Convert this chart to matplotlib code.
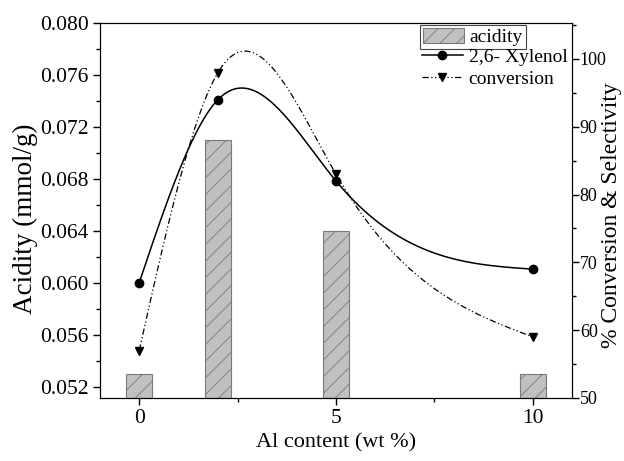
import numpy as np
import matplotlib.pyplot as plt
from matplotlib.ticker import MultipleLocator

plt.rcParams['font.family'] = ['Liberation Serif', 'DejaVu Serif']
plt.rcParams['hatch.linewidth'] = 0.6
plt.rcParams['hatch.color'] = '#333333'

al_content = [0, 2, 5, 10]
acidity = [0.053, 0.071, 0.064, 0.053]
xylenol = [67, 94, 82, 69]
conversion = [57, 98, 83, 59]


def natural_spline(xs, ys, xfine):
    # natural cubic spline, like the smoothed line in Origin
    xs = np.asarray(xs, float)
    ys = np.asarray(ys, float)
    n = len(xs)
    h = np.diff(xs)
    A = np.zeros((n, n))
    b = np.zeros(n)
    A[0, 0] = A[-1, -1] = 1
    for i in range(1, n - 1):
        A[i, i - 1] = h[i - 1]
        A[i, i] = 2 * (h[i - 1] + h[i])
        A[i, i + 1] = h[i]
        b[i] = 6 * ((ys[i + 1] - ys[i]) / h[i] - (ys[i] - ys[i - 1]) / h[i - 1])
    M = np.linalg.solve(A, b)
    out = np.empty_like(xfine)
    for k, t in enumerate(xfine):
        i = min(np.searchsorted(xs, t, side='right') - 1, n - 2)
        i = max(i, 0)
        a = xs[i + 1] - t
        c = t - xs[i]
        out[k] = (M[i] * a**3 + M[i + 1] * c**3) / (6 * h[i]) \
            + (ys[i] / h[i] - M[i] * h[i] / 6) * a \
            + (ys[i + 1] / h[i] - M[i + 1] * h[i] / 6) * c
    return out


fig = plt.figure(figsize=(6.24, 4.61), dpi=100)
ax = fig.add_axes([0.160, 0.1367, 0.757, 0.8133])
ax2 = ax.twinx()

bars = ax.bar(al_content, acidity, width=0.65, color='#c0c0c0', edgecolor='#7a7a7a',
              hatch='//', linewidth=0.8, label='acidity', zorder=2)

xf = np.linspace(0, 10, 300)
ax2.plot(xf, natural_spline(al_content, xylenol, xf), color='black', lw=1.1)
ax2.plot(xf, natural_spline(al_content, conversion, xf), color='black', lw=0.9,
         dashes=[5, 2, 1, 2, 1, 2])
ax2.plot(al_content, xylenol, 'o', color='black', ms=6)
ax2.plot(al_content, conversion, 'v', color='black', ms=6)

# legend handles with line + marker
h1, = ax2.plot([], [], '-o', color='black', ms=6, lw=1.1)
h2, = ax2.plot([], [], 'v', color='black', ms=6, lw=0.9, ls=(0, (5, 2, 1, 2, 1, 2)))

ax.set_xlim(-1, 11)
ax.set_ylim(0.05115, 0.080)
ax2.set_ylim(50, 105.3)

ax.xaxis.set_major_locator(MultipleLocator(5))
ax.xaxis.set_minor_locator(MultipleLocator(2.5))
ax.yaxis.set_major_locator(MultipleLocator(0.004))
ax.yaxis.set_minor_locator(MultipleLocator(0.002))
ax2.yaxis.set_major_locator(MultipleLocator(10))
ax2.yaxis.set_minor_locator(MultipleLocator(5))
ax.yaxis.set_major_formatter(plt.FormatStrFormatter('%.3f'))

for a in (ax, ax2):
    a.tick_params(which='major', direction='out', length=5, width=1, pad=3)
    a.tick_params(which='minor', direction='out', length=3, width=1)
ax.tick_params(axis='y', labelsize=15.5)
ax.tick_params(axis='x', labelsize=15.5)
ax2.tick_params(axis='y', labelsize=13, pad=0.5)

ax.set_xlabel('Al content (wt %)', fontsize=16, labelpad=4)
ax.set_ylabel('Acidity (mmol/g)', fontsize=19.5)
ax.yaxis.set_label_coords(-0.13, 0.477)
ax2.set_ylabel('% Conversion & Selectivity', fontsize=17)
ax2.yaxis.set_label_coords(1.062, 0.488)

leg1 = ax2.legend(handles=[bars], labels=['acidity'], loc='upper left',
                  bbox_to_anchor=(0.678, 0.995), fontsize=14, frameon=True,
                  fancybox=False, edgecolor='#444444', framealpha=1,
                  handlelength=2.1, handleheight=0.85, handletextpad=0.3,
                  borderpad=0.15, borderaxespad=0)
leg1.get_frame().set_linewidth(0.8)
ax2.add_artist(leg1)
ax2.legend(handles=[h1, h2], labels=['2,6- Xylenol', 'conversion'], loc='upper left',
           bbox_to_anchor=(0.682, 0.932), fontsize=14, frameon=False,
           handlelength=2.1, handletextpad=0.3, borderpad=0, labelspacing=0.2,
           borderaxespad=0)

fig.savefig('out.png', dpi=100)
